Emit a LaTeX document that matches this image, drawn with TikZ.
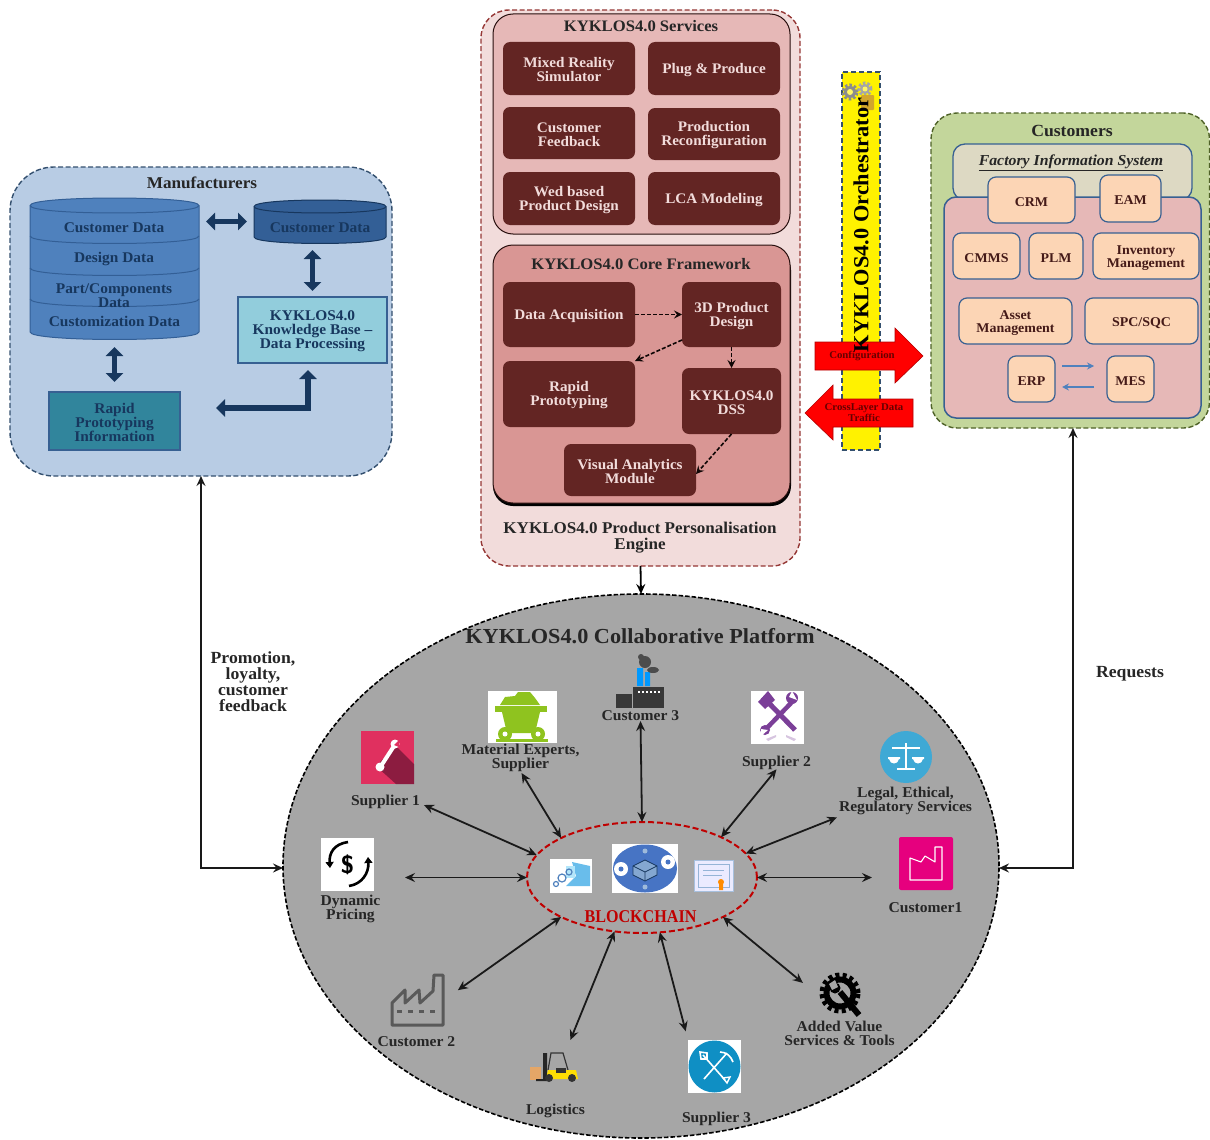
\documentclass[tikz,border=0pt]{standalone}
\usepackage{fontspec}
\setmainfont{Liberation Serif}[FakeStretch=1.04]
\usetikzlibrary{arrows.meta,calc,shapes.geometric}
\definecolor{mfill}{HTML}{B8CCE4}
\definecolor{mline}{HTML}{34506F}
\definecolor{navy}{HTML}{17375E}
\definecolor{cylA}{HTML}{4F81BD}
\definecolor{cylB}{HTML}{335F96}
\definecolor{maroon}{HTML}{632523}
\definecolor{enginefill}{HTML}{F2DCDB}
\definecolor{enginel}{HTML}{953735}
\definecolor{svcfill}{HTML}{E6B8B7}
\definecolor{corefill}{HTML}{D99694}
\definecolor{peach}{HTML}{FCD5B5}
\definecolor{custfill}{HTML}{C3D69B}
\definecolor{custline}{HTML}{4F6228}
\definecolor{boxl}{HTML}{376092}
\definecolor{fisfill}{HTML}{DDD9C3}
\definecolor{platfill}{HTML}{A6A6A6}
\definecolor{inktext}{HTML}{262626}
\definecolor{bcred}{HTML}{C00000}
\definecolor{kbc}{HTML}{92CDDC}
\definecolor{rpc}{HTML}{31859C}
\definecolor{pinkS}{HTML}{E0305F}
\definecolor{pinkD}{HTML}{8C1C40}
\definecolor{greenC}{HTML}{8FC31F}
\definecolor{violetP}{HTML}{7B3F98}
\definecolor{legalB}{HTML}{3FA9D5}
\definecolor{magP}{HTML}{E6007E}
\definecolor{sthreeblue}{HTML}{0F8FC4}
\newcommand{\bx}[7]{%
  \pgfmathsetmacro{\bxw}{#5-#3}\pgfmathsetmacro{\bxh}{#6-#4}%
  \node[#2,anchor=north west,minimum width=\bxw pt,minimum height=\bxh pt] (#1) at (#3,#4) {\rule{0pt}{12.5pt}#7};}
\newcommand{\cyl}[7]{%
  \pgfmathsetmacro{\cytop}{#2+1.33*#5}\pgfmathsetmacro{\cyup}{#2-1.33*#5}\pgfmathsetmacro{\cybot}{#4+1.33*#5}%
  \path[fill=#6,draw=#7,line width=1] (#1,#2) -- (#1,#4) .. controls (#1,\cybot) and (#3,\cybot) .. (#3,#4) -- (#3,#2) .. controls (#3,\cyup) and (#1,\cyup) .. (#1,#2) -- cycle;
  \path[draw=#7,line width=1] (#1,#2) .. controls (#1,\cytop) and (#3,\cytop) .. (#3,#2);}
\newcommand{\cylsep}[5]{\pgfmathsetmacro{\cybot}{#3+1.33*#4}\path[draw=#5,line width=1] (#1,#3) .. controls (#1,\cybot) and (#2,\cybot) .. (#2,#3);}
\tikzset{
  base/.style={inner sep=0pt,outer sep=0pt},
  txtb/.style={base,align=center,font=\fontsize{15}{14}\selectfont\bfseries,text=inktext},
  txt/.style={txtb,yshift=-1.5pt},
  nvb/.style={txtb,font=\fontsize{14.8}{14}\selectfont\bfseries,text=navy},
  nv/.style={nvb,yshift=-1.5pt},
  ttl/.style={txt,text=black!85,font=\fontsize{16}{16}\selectfont\bfseries},
  panel/.style={base,rounded corners=#1,line width=1.4pt,dash pattern=on 5pt off 2.5pt},
  mbox/.style={base,align=center,rounded corners=7pt,fill=maroon,text=enginefill,font=\fontsize{14.6}{14}\selectfont\bfseries},
  pbox/.style={base,align=center,rounded corners=8pt,fill=peach,draw=boxl,line width=1.2pt,text=maroon!70!black,font=\fontsize{13.4}{13}\selectfont\bfseries},
  fat/.style={line width=5.5pt,draw=navy,{Triangle[length=9pt,width=17pt]}-{Triangle[length=9pt,width=17pt]}},
  dasharr/.style={line width=1.6pt,draw=black!85!maroon,dash pattern=on 4pt off 2pt,-{Stealth[length=8pt,width=8pt,inset=3pt]}},
  twoway/.style={line width=1.8pt,draw=black!90,{Stealth[length=10pt,width=9pt,inset=3.5pt]}-{Stealth[length=10pt,width=9pt,inset=3.5pt]}},
  iconbg/.style={base,fill=white},
  thinblue/.style={line width=1.3pt,draw=cylA,-{Stealth[length=7pt,width=7pt,inset=2.5pt]}},
  redarrow/.style={fill=red,draw=red!70!black,line width=.6pt},
  redtext/.style={base,align=center,text=red!40!black,font=\fontsize{10.4}{9.5}\selectfont\bfseries}
}
\begin{document}
\begin{tikzpicture}[x=1pt,y=-1pt]
\useasboundingbox (0,0) rectangle (1210,1140);
% ---------- Manufacturers
\bx{mfr}{panel=44pt,fill=mfill,draw=mline}{10}{167}{392}{476}{}
\node[ttl,font=\fontsize{16.5}{16}\selectfont\bfseries] (mfrT) at (202,181) {Manufacturers};
\cyl{30}{205.5}{199}{332}{7.5}{cylA}{cylB}
\cylsep{30}{199}{236}{7.5}{cylB}
\cylsep{30}{199}{268}{7.5}{cylB}
\cylsep{30}{199}{299}{7.5}{cylB}
\node[base,minimum width=169pt,minimum height=141pt,anchor=north west] (bigcyl) at (30,198) {};
\cyl{254}{206.5}{386}{237}{6.5}{cylB}{navy}
\node[base,minimum width=132pt,minimum height=43pt,anchor=north west] (smcyl) at (254,200) {};
\node[nv] (t1) at (114,226) {Customer Data};
\node[nv] (t2) at (114,257) {Design Data};
\node[nv] (t3) at (114,294) {Part/Components\\Data};
\node[nv] (t4) at (114.5,320) {Customization Data};
\node[nv] (t5) at (320,226) {Customer Data};
\bx{kb}{nvb,fill=kbc,draw=boxl,line width=1.2pt}{238}{297}{387}{363}{KYKLOS4.0\\Knowledge Base –\\Data Processing}
\bx{rp}{nvb,fill=rpc,draw=boxl,line width=1.2pt}{49}{392}{180}{450}{Rapid\\Prototyping\\Information}
\coordinate (corner) at (308,408);
\draw[fat,shorten <=7pt,shorten >=7pt] (bigcyl.east |- smcyl.west) -- (smcyl.west);
\draw[fat,shorten <=7pt,shorten >=6pt] (kb.north |- smcyl.south) -- (kb.north);
\draw[fat,shorten <=8pt,shorten >=10pt] (bigcyl.south) -- (rp.north);
\draw[fat,shorten <=36pt,shorten >=7pt] (rp.east |- corner) -- (corner) -- (corner |- kb.south);
% ---------- Engine
\bx{eng}{panel=28pt,fill=enginefill,draw=enginel}{481}{10}{800}{566}{}
\bx{svc}{base,rounded corners=20pt,fill=svcfill,draw=black!60!maroon,line width=1pt}{493}{14}{790}{234}{}
\node[ttl] (svcT) at (641,25) {KYKLOS4.0 Services};
\bx{a1}{mbox}{503}{42}{635}{95}{Mixed Reality\\Simulator}
\bx{a2}{mbox}{648}{42}{780}{95}{Plug \& Produce}
\bx{a3}{mbox}{503}{107}{635}{159}{Customer\\Feedback}
\bx{a4}{mbox}{648}{108}{780}{160}{Production\\Reconfiguration}
\bx{a5}{mbox}{503}{172}{635}{225}{Wed based\\Product Design}
\bx{a6}{mbox}{648}{172}{780}{225}{LCA Modeling}
\fill[black,rounded corners=20pt] (493,250) rectangle (791,506);
\bx{core}{base,rounded corners=20pt,fill=corefill,draw=black!60!maroon,line width=1pt}{493}{245}{790}{503}{}
\node[ttl] (coreT) at (641,263) {KYKLOS4.0 Core Framework};
\bx{c1}{mbox}{503}{282}{635}{347}{Data Acquisition}
\bx{c2}{mbox}{682}{282}{781}{347}{3D Product\\Design}
\bx{c3}{mbox}{503}{361}{635}{427}{Rapid\\Prototyping}
\bx{c4}{mbox}{682}{368}{781}{434}{KYKLOS4.0\\DSS}
\bx{c5}{mbox}{564}{444}{696}{496}{Visual Analytics\\Module}
\draw[dasharr] (c1.east) -- (c2.west);
\draw[dasharr] ([yshift=7pt]c2.south west) -- (c3.north east);
\draw[dasharr] (c2.south) -- (c4.north);
\draw[dasharr] (c4.south) -- ([yshift=-4pt]c5.east);
\node[ttl,font=\fontsize{16.4}{16.5}\selectfont\bfseries] (engT) at (640,536) {KYKLOS4.0 Product Personalisation\\Engine};
% ---------- Orchestrator
\bx{orch}{base,fill=yellow,draw=mline,line width=1.3pt,dash pattern=on 5pt off 3pt}{842}{72}{880}{450}{}
\draw[line width=3pt,draw=black!45,dash pattern=on 2.5pt off 2pt] (850,92) circle (7pt);
\fill[black!45] (850,92) circle (6pt); \fill[yellow!60!white] (850,92) circle (3pt);
\draw[line width=3pt,draw=black!35,dash pattern=on 2.5pt off 2pt] (865,89) circle (6pt);
\fill[black!35] (865,89) circle (5pt); \fill[yellow!60!white] (865,89) circle (2.5pt);
\fill[brown!70!yellow,rounded corners=1pt] (861,95) rectangle (874,110);
\path[redarrow] (815,342) -- (895,342) -- (895,328) -- (923,356) -- (895,383) -- (895,370) -- (815,370) -- cycle;
\node[redtext] (cfg) at (862,356) {Configuration};
\path[redarrow] (805,413) -- (833,385) -- (833,399) -- (913,399) -- (913,427) -- (833,427) -- (833,440) -- cycle;
\node[redtext] (xlt) at (864,412.5) {CrossLayer Data\\Traffic};
\node[base,rotate=90,font=\fontsize{21.5}{21}\selectfont\bfseries,text=black] (orchT) at (861,225) {KYKLOS4.0 Orchestrator};
% ---------- Customers
\bx{cust}{panel=26pt,fill=custfill,draw=custline}{931}{113}{1209.5}{428}{}
\node[ttl,font=\fontsize{17}{16}\selectfont\bfseries] (custT) at (1072,129) {Customers};
\bx{fis}{base,rounded corners=12pt,fill=fisfill,draw=boxl,line width=1.3pt}{953}{144}{1192}{200}{}
\node[ttl,font=\fontsize{15.2}{15}\selectfont\bfseries\itshape] (fisT) at (1071,161) {\underline{Factory Information System}};
\bx{pinkb}{base,rounded corners=12pt,fill=svcfill,draw=boxl,line width=1.5pt}{944}{197}{1201}{418}{}
\bx{b1}{pbox}{988}{177}{1075}{223}{CRM}
\bx{b2}{pbox}{1100}{175}{1161}{222}{EAM}
\bx{b3}{pbox}{953}{233}{1020}{279}{CMMS}
\bx{b4}{pbox}{1029}{233}{1083}{279}{PLM}
\bx{b5}{pbox}{1093}{233}{1199}{279}{Inventory\\Management}
\bx{b6}{pbox}{959}{298}{1072}{344}{Asset\\Management}
\bx{b7}{pbox}{1085}{298}{1198}{344}{SPC/SQC}
\bx{b8}{pbox}{1008}{356}{1055}{402}{ERP}
\bx{b9}{pbox}{1107}{356}{1154}{402}{MES}
\draw[thinblue,shorten <=7pt,shorten >=13pt] ([yshift=13pt]b8.east) -- ([yshift=13pt]b9.west);
\draw[thinblue,shorten <=13pt,shorten >=7pt] ([yshift=-8pt]b9.west) -- ([yshift=-8pt]b8.east);
% ---------- Platform
\node[base,ellipse,minimum width=716pt,minimum height=544pt,fill=platfill,draw=black,line width=1.6pt,dash pattern=on 4.5pt off 2pt] (plat) at (641,866) {};
\node[txt,font=\fontsize{21.4}{22}\selectfont\bfseries] (platT) at (640,634.5) {KYKLOS4.0 Collaborative Platform};
\draw[line width=1.8pt,-{Stealth[length=10pt,width=9pt,inset=3.5pt]}] (eng.south) -- (plat.north);
\coordinate (leftc) at (201,868);
\coordinate (rightc) at (1073,868);
\draw[twoway] (mfr.south -| leftc) -- (leftc) -- (plat.west |- leftc);
\draw[twoway] (plat.east |- rightc) -- (rightc) -- (rightc |- cust.south);
\node[txt,font=\fontsize{17}{16}\selectfont\bfseries] (promo) at (253,680) {Promotion,\\loyalty,\\customer\\feedback};
\node[txt,font=\fontsize{17}{16}\selectfont\bfseries] (req) at (1130,672) {Requests};
% blockchain
\node[base,ellipse,minimum width=230pt,minimum height=111pt,draw=bcred,line width=2pt,dash pattern=on 6pt off 3pt] (bc) at (642,877.5) {};
\node[txt,font=\fontsize{18}{18}\selectfont\bfseries,text=bcred] (bcT) at (640.5,915) {\scalebox{.86}[1]{BLOCKCHAIN}};
\bx{i1}{iconbg}{550}{859}{592}{893}{}
\fill[cyan!55!white!90!blue] (572,862) -- (590,866) -- (590,886) -- (566,886) -- (576,876) -- cycle;
\fill[cyan!30!white] (566,866) rectangle (575,878);
\draw[cylA,line width=1.2pt] (562,878) circle (4pt) (556,884) circle (2.5pt) (569,872) circle (3pt);
\bx{i2}{iconbg}{612}{844}{678}{893}{}
\node[base,ellipse,minimum width=64pt,minimum height=48pt,fill=cylA!90!blue] (i2e) at (645,868.5) {};
\fill[white] (621,869) circle (7pt) (668,862) circle (7pt);
\fill[cylA!90!blue] (621,869) circle (2.5pt) (668,862) circle (2.5pt);
\path[fill=cylA!70!white,draw=navy,line width=.8pt] (633,866) -- (645,860) -- (657,866) -- (657,875) -- (645,881) -- (633,875) -- cycle;
\draw[navy,line width=.8pt] (633,866) -- (645,872) -- (657,866) (645,872) -- (645,881);
\fill[cylA!55!white] (645,851) circle (2.5pt) (645,887) circle (2.5pt);
\bx{i3}{base,fill=blue!8!white,draw=cylA!50!white,line width=.8pt}{694}{860}{733}{891}{}
\draw[cylA!60!white,line width=.7pt] (698,864) rectangle (729,887) (703,870) -- (724,870) (703,875) -- (722,875);
\fill[orange!90!yellow] (721,882) circle (3pt) (719,884) rectangle (723,890);
% icons
\bx{s1}{base,fill=pinkS}{361}{731}{414}{784}{}
\fill[pinkD] (396,746) -- (414,764) -- (414,784) -- (396,784) -- (376,766) -- cycle;
\draw[white,line width=4pt,line cap=round] (381,766) -- (394,746);
\fill[white] (380,767) circle (4.5pt) (395,744) circle (4.5pt);
\fill[pinkS] (399,740) -- (394,745) -- (399,747) -- cycle;
\node[txt] (s1T) at (385.5,800.5) {Supplier 1};
\bx{m1}{iconbg}{488}{691}{557}{743}{}
\fill[greenC] (500,705) -- (505,697) -- (515,696) -- (518,692) -- (530,692) -- (535,698) -- (540,705) -- cycle;
\fill[greenC] (495,706) rectangle (547,712);
\fill[greenC] (502,712) -- (540,712) -- (535,733) -- (507,733) -- cycle;
\fill[greenC] (505,734) circle (7pt) (538,734) circle (7pt);
\fill[white] (505,734) circle (2.5pt) (538,734) circle (2.5pt);
\fill[greenC] (496,739) rectangle (548,742);
\node[txt] (mT) at (520.5,756) {Material Experts,\\Supplier};
\bx{cthreeic}{base,fill=black!78}{633}{687}{664}{708}{}
\fill[black!78] (616,694) rectangle (632,708);
\fill[blue!40!cyan] (637,668) rectangle (643,686) (645,672) rectangle (650,686);
\fill[black!70] (645,662) circle (6pt) (653,670) ellipse (6pt and 3pt) (641,657) circle (3pt);
\draw[white,line width=1.5pt,dash pattern=on 1.5pt off 2.5pt] (638,692) -- (662,692);
\node[txt] (c3T) at (640.5,714.5) {Customer 3};
\bx{s2}{iconbg}{751}{691}{804}{744}{}
\draw[violetP,line width=5pt] (763,697) -- (795,730);
\draw[violetP,line width=4.5pt] (792,702) -- (765,730);
\fill[violetP] (758,702) -- (768,691) -- (775,700) -- (765,709) -- cycle;
\fill[violetP] (792,698) circle (6pt) (765,730) circle (5pt);
\fill[white] (792,691) -- (797,700) -- (789,697) -- cycle (760,737) -- (768,730) -- (761,729) -- cycle;
\fill[violetP!30!white] (766,739) -- (776,735) -- (776,737) -- (768,741) -- cycle (786,735) -- (796,739) -- (794,741) -- (786,737) -- cycle;
\node[txt] (s2T) at (776.5,761) {Supplier 2};
\node[base,circle,minimum size=52pt,fill=legalB] (lg) at (906,757) {};
\draw[white,line width=2pt] (906,743) -- (906,768) (897,769) -- (915,769);
\draw[white,line width=1.5pt] (892,748) -- (920,748);
\fill[white] (888,757) rectangle (900,759) (912,757) rectangle (924,759);
\fill[white] (889,759) .. controls (890,765) and (898,765) .. (899,759) -- cycle;
\fill[white] (913,759) .. controls (914,765) and (922,765) .. (923,759) -- cycle;
\node[txt] (lT) at (905.5,799) {Legal, Ethical,\\Regulatory Services};
\bx{conic}{base,rounded corners=2pt,fill=magP}{899}{837}{953}{890}{}
\draw[white,line width=1.1pt,line join=round] (910,858) -- (910,880) -- (942,880) -- (942,847) -- (935,847) -- (935,862) -- (925,856) -- (921,862) -- cycle;
\node[txt] (c1T) at (925.5,906) {Customer1};
\bx{dp}{iconbg}{321}{838}{374}{891}{}
\node[base,font=\fontsize{25}{25}\selectfont\sffamily\bfseries,text=black] (dpS) at (347.5,864.5) {\$};
\draw[line width=2.6pt,-{Triangle[length=6pt,width=8pt]}] (348,842) .. controls (334,844) and (329,853) .. (330,868);
\draw[line width=2.6pt,-{Triangle[length=6pt,width=8pt]}] (349,886) .. controls (362,884) and (369,873) .. (368,857);
\node[txt] (dT) at (350.5,907) {Dynamic\\Pricing};
\path[draw=black!65,line width=3pt,line join=round] (392,1025) -- (392,1003) -- (405,990) -- (405,1003) -- (419,990) -- (420,1003) -- (433,991) -- (434,975) -- (443,975) -- (443,1025) -- cycle;
\draw[black!65,line width=3pt,dash pattern=on 5pt off 6pt] (397,1011) -- (440,1011);
\node[base,minimum width=53pt,minimum height=53pt] (ctwoic) at (417.5,1000) {};
\node[txt] (c2T) at (416.5,1040) {Customer 2};
\node[base,minimum width=49pt,minimum height=30pt] (fk) at (553.5,1067) {};
\fill[orange!40!brown!70!white] (530,1067) rectangle (541,1080);
\fill[black!85] (543,1053) rectangle (547,1080) (536,1079) rectangle (547,1081);
\draw[black!80,line width=1.2pt] (548,1070) -- (551,1053) -- (563,1053) -- (568,1070);
\fill[yellow!80!orange] (548,1070) -- (576,1070) -- (578,1079) -- (546,1079) -- cycle;
\fill[black!80] (556,1068) rectangle (566,1073);
\fill[black!80] (549,1078) circle (4pt) (572,1078) circle (4pt);
\node[txt] (lgT) at (555.5,1109) {Logistics};
\bx{s3}{iconbg}{688}{1040}{741}{1093}{}
\node[base,circle,minimum size=52pt,fill=sthreeblue] (s3c) at (714.5,1066.5) {};
\draw[white,line width=1.6pt] (703,1055) -- (725,1080) (727,1053) -- (704,1079);
\draw[white,line width=1.6pt] (700,1052) -- (707,1053) -- (707,1059) -- (701,1059) -- cycle;
\draw[white,line width=1.6pt] (720,1052) .. controls (726,1052) and (731,1056) .. (733,1062);
\draw[white,line width=1.4pt] (723,1078) -- (730,1077) -- (727,1083) -- cycle;
\node[txt] (s3T) at (716.5,1117) {Supplier 3};
\draw[black,line width=5pt,dash pattern=on 4pt off 3.2pt] (840,993) circle (18pt);
\draw[black,line width=6pt] (840,993) circle (13.5pt);
\draw[black,line width=6pt] (840,992) -- (859,1015);
\fill[black] (835,988) circle (5.5pt);
\fill[platfill] (829,984) -- (835,980) -- (838,987) -- (832,990) -- cycle;
\node[base,minimum width=45pt,minimum height=46pt] (av) at (840,995) {};
\node[txt] (avT) at (839.5,1032) {Added Value\\Services \& Tools};
% two way links
\draw[twoway,shorten <=31pt] (bc.180 -| dp.east) -- (bc.180);
\draw[twoway] ([shift={(4pt,-3pt)}]s1T.east) -- (bc.168);
\draw[twoway,shorten <=2pt] (mT.south) -- (bc.154);
\draw[twoway] (c3T.south) -- (bc.north);
\draw[twoway] (s2T.south) -- (bc.27);
\draw[twoway] (bc.13) -- ([shift={(-2pt,-3pt)}]lT.south west);
\draw[twoway,shorten >=27pt] (bc.0) -- (bc.0 -| conic.west);
\draw[twoway,shorten <=19pt] (av.west) -- (bc.-26);
\draw[twoway,shorten <=9pt] (s3.north west) -- (bc.-72);
\draw[twoway,shorten <=13pt] ([xshift=12pt]fk.north) -- (bc.-117);
\draw[twoway,shorten <=17pt] (ctwoic.east) -- (bc.206);
\end{tikzpicture}
\end{document}
